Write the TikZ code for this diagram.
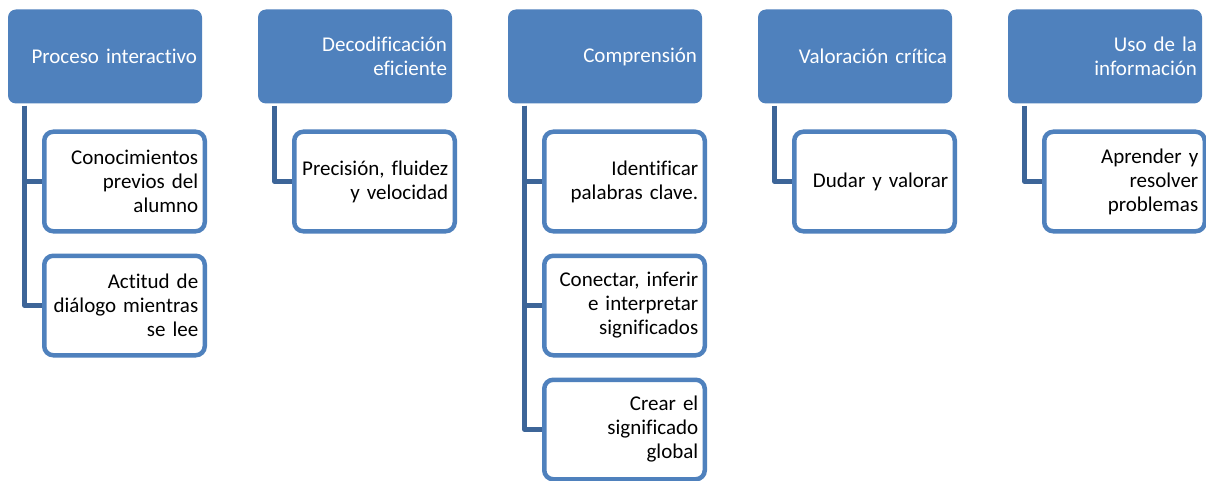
\documentclass[tikz,border=0pt]{standalone}
\usepackage{fontspec}
\setmainfont{Carlito}[Ligatures=NoCommon]
\definecolor{acc}{HTML}{4F81BD}
\definecolor{lin}{HTML}{3D6598}
\begin{document}
\begin{tikzpicture}[x=1pt,y=-1pt,
  top/.style={rectangle,rounded corners=8pt,fill=acc,text=white,
    minimum width=194pt,minimum height=94pt,inner xsep=5pt,inner ysep=0pt,
    text width=184pt,align=right,font=\fontsize{21}{24}\selectfont},
  sub/.style={rectangle,rounded corners=9pt,draw=acc,line width=4.5pt,fill=white,
    minimum width=160.5pt,minimum height=99.5pt,inner xsep=6.5pt,inner ysep=0pt,
    text width=147.5pt,align=right,font=\fontsize{21}{24}\selectfont},
  conn/.style={draw=lin,line width=5pt,line join=round}]
\useasboundingbox (0,0) rectangle (1206,481);
\fill[white] (0,0) rectangle (1206,481);
% top boxes
\node[top] (t1) at (105,56.5) {Proceso interactivo};
\node[top] (t2) at (355,56.5) {Decodificación\\eficiente};
\node[top] (t3) at (605,56.5) {Comprensión};
\node[top] (t4) at (855,56.5) {Valoración crítica};
\node[top] (t5) at (1105,56.5) {Uso de la\\información};
% child boxes
\node[sub] (c11) at (124.5,181.5) {Conocimientos\\previos del\\alumno};
\node[sub] (c12) at (124.5,305.5) {Actitud de\\diálogo mientras\\se lee};
\node[sub] (c21) at (374.5,181.5) {Precisión, fluidez\\y velocidad};
\node[sub] (c31) at (624.5,181.5) {Identificar\\palabras clave.};
\node[sub] (c32) at (624.5,305.5) {Conectar, inferir\\e interpretar\\significados};
\node[sub] (c33) at (624.5,429.5) {Crear el\\significado\\global};
\node[sub] (c41) at (874.5,181.5) {Dudar y valorar};
\node[sub] (c51) at (1124.5,181.5) {Aprender y\\resolver\\problemas};
% connectors
\draw[conn] ([xshift=17pt,yshift=-2pt]t1.south west) |- (c11.west);
\draw[conn] ([xshift=17pt,yshift=-2pt]t1.south west) |- (c12.west);
\draw[conn] ([xshift=17pt,yshift=-2pt]t2.south west) |- (c21.west);
\draw[conn] ([xshift=17pt,yshift=-2pt]t3.south west) |- (c31.west);
\draw[conn] ([xshift=17pt,yshift=-2pt]t3.south west) |- (c32.west);
\draw[conn] ([xshift=17pt,yshift=-2pt]t3.south west) |- (c33.west);
\draw[conn] ([xshift=17pt,yshift=-2pt]t4.south west) |- (c41.west);
\draw[conn] ([xshift=17pt,yshift=-2pt]t5.south west) |- (c51.west);
\end{tikzpicture}
\end{document}
